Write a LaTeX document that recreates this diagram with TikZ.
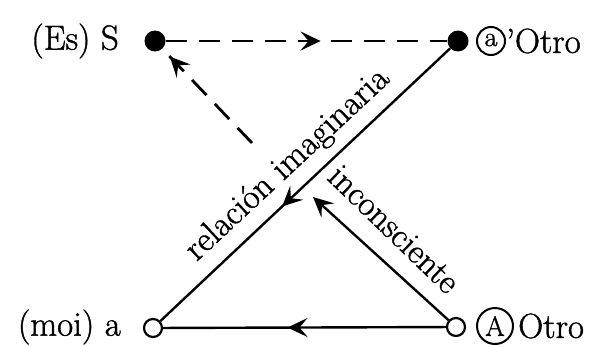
\documentclass[tikz,border=0pt]{standalone}
\usepackage{fontspec}
\setmainfont{Latin Modern Roman}[FakeBold=1.2]
\usetikzlibrary{arrows.meta,decorations.markings}
\tikzset{mytip/.tip={Stealth[length=20bp,width=19bp,inset=8bp]}}
\begin{document}
\begin{tikzpicture}[x=1bp,y=1bp,
  txt/.style={inner sep=0pt,font=\fontsize{35}{40}\selectfont},
  fdot/.style={circle,fill=black,minimum size=21bp,inner sep=0pt},
  odot/.style={circle,draw=black,line width=2.2bp,minimum size=18bp,inner sep=0pt},
  ring/.style={circle,draw=black,line width=2bp,inner sep=0pt},
  solidline/.style={line width=2.4bp},
  dashline/.style={line width=2.8bp,dash pattern=on 21bp off 12bp},
  midarrow/.style={postaction={decorate},decoration={markings,mark=at position #1 with {\arrow{mytip}}}}
]
\useasboundingbox (0,0) rectangle (601,345);
% points
\node[fdot] (S) at (155,304) {};
\node[fdot] (ap) at (458,304) {};
\node[odot] (a) at (153,17) {};
\node[odot] (A) at (456,18) {};
\coordinate (T) at (313,148);
\coordinate (D) at (252,202);
% labels
\node[txt,anchor=east] (lS) at (119,304) {(Es) S};
\node[txt,anchor=east] (la) at (121,18) {(moi) a};
\node[ring,minimum size=28bp] (cap) at (491,304) {};
\node[txt] (capt) at (491,305) {\fontsize{28}{30}\selectfont a};
\node[txt,anchor=west] (lap) at (506,304) {'Otro};
\node[ring,minimum size=36bp] (cA) at (495,19) {};
\node[txt] (cAt) at (495,19) {\fontsize{28}{30}\selectfont A};
\node[txt,anchor=west] (lA) at (518,19) {Otro};
% connectors
\draw[dashline,midarrow=0.55] (S) -- (ap);
\draw[solidline,midarrow=0.58] (ap) -- (a);
\draw[solidline,midarrow=0.56] (A) -- (a);
\draw[solidline,-{mytip}] (A) -- (T);
\draw[dashline,midarrow=0.92] (D) -- (S);
% line labels
\node[txt,rotate=43] (rel) at (288,180) {relación imaginaria};
\node[txt,rotate=-44] (inc) at (394,116) {inconsciente};
\end{tikzpicture}
\end{document}
